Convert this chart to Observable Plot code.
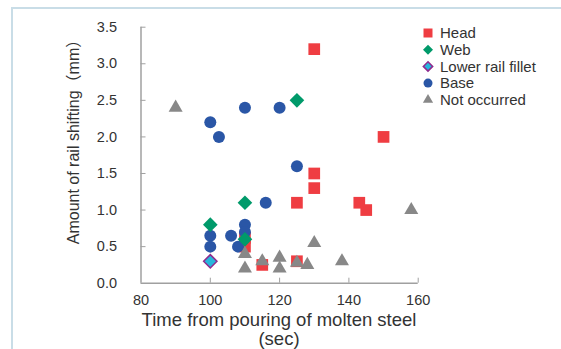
<!DOCTYPE html>
<html><head><meta charset="utf-8">
<script src="https://cdn.jsdelivr.net/npm/d3@7"></script>
<script src="https://cdn.jsdelivr.net/npm/@observablehq/plot@0.6"></script>
<style>
body{margin:0;background:#fff;}
#wrap{position:relative;width:561px;height:349px;overflow:hidden;font-family:"Liberation Sans",Arial,sans-serif;}
#frame{position:absolute;left:11px;top:7px;right:-10px;bottom:-10px;border-top:2px solid #c9dde7;border-left:2px solid #c9dde7;}
#chart{position:absolute;left:0;top:0;}
#legend{position:absolute;left:0;top:0;}
</style></head><body>
<div id="wrap"><div id="frame"></div><div id="chart"></div><svg id="legend" width="561" height="349"></svg></div>
<script>
const xTicks = [80, 100, 120, 140, 160];
const yTicks = [0, 0.5, 1, 1.5, 2, 2.5, 3, 3.5];
const seriesNames = ["Head", "Web", "Lower rail fillet", "Base", "Not occurred"];
const xTitle = "Time from pouring of molten steel";
const xUnit = "(sec)";
const yTitle = "Amount of rail shifting（mm）";

// [time (sec), shifting (mm)]
const head = [[130,3.2],[150,2.0],[130,1.5],[130,1.3],[125,1.1],[143,1.1],[145,1.0],[110,0.62],[110,0.5],[115,0.25],[125,0.3]];
const web = [[125,2.5],[110,1.1],[100,0.8],[110,0.6]];
const fillet = [[100,0.3]];
const base = [[100,2.2],[102.5,2.0],[110,2.4],[120,2.4],[125,1.6],[116,1.1],[110,0.8],[110,0.7],[100,0.65],[106,0.65],[100,0.5],[108,0.5]];
const notOccurred = [[90,2.4],[158,1.0],[130,0.55],[110,0.4],[110,0.2],[115,0.3],[120,0.35],[120,0.2],[125,0.28],[128,0.25],[138,0.3]];

const RED = "#ef3d42", GREEN = "#009a6a", CYAN = "#27b6dc", PURPLE = "#8e2b8e", BLUE = "#2a56a6", GRAY = "#888888";
const AXIS = "#a0a0a0", TEXT = "#333333";

const px = d => d[0], py = d => d[1];

const plot = Plot.plot({
  width: 561, height: 349,
  marginLeft: 140.5, marginRight: 143.3, marginTop: 26.7, marginBottom: 66.3,
  x: {domain: [80, 160]},
  y: {domain: [0, 3.5]},
  style: {fontFamily: '"Liberation Sans", Arial, sans-serif', fontSize: "14.5px", color: TEXT, background: "transparent"},
  marks: [
    Plot.axisY(yTicks.slice(1), {tickSize: 5, dx: 5, tickFormat: () => "", stroke: AXIS, label: null}),
    Plot.axisY(yTicks, {tickSize: 0, tickPadding: 24, tickFormat: d => d.toFixed(1), label: null}),
    Plot.axisX(xTicks.slice(1), {tickSize: 5, dy: -5, tickFormat: () => "", stroke: AXIS, label: null}),
    Plot.axisX(xTicks, {tickSize: 0, tickPadding: 12, tickFormat: d => String(d), label: null}),
    Plot.ruleX([80], {stroke: AXIS, strokeWidth: 1.5}),
    Plot.ruleY([0], {stroke: AXIS, strokeWidth: 1.5}),
    Plot.dot(head, {x: px, y: py, symbol: "square", r: 6.6, fill: RED}),
    Plot.dot(base, {x: px, y: py, symbol: "circle", r: 6, fill: BLUE}),
    Plot.dot(web, {x: px, y: py, symbol: "diamond2", r: 6.6, fill: GREEN}),
    Plot.dot(fillet, {x: px, y: py, symbol: "diamond2", r: 6, fill: CYAN, stroke: PURPLE, strokeWidth: 1.5}),
    Plot.dot(notOccurred, {x: px, y: py, symbol: "triangle", r: 5.2, fill: GRAY})
  ]
});
document.getElementById("chart").appendChild(plot);

const svg = d3.select(plot);
svg.append("text").attr("x", 279).attr("y", 326).attr("text-anchor", "middle")
  .attr("font-size", "18.5px").attr("fill", TEXT).text(xTitle);
svg.append("text").attr("x", 279).attr("y", 345).attr("text-anchor", "middle")
  .attr("font-size", "18.5px").attr("fill", TEXT).text(xUnit);
svg.append("text").attr("transform", "translate(79,138) rotate(-90)").attr("text-anchor", "middle")
  .attr("font-size", "16px").attr("fill", TEXT)
  .attr("font-family", '"Liberation Sans", Arial, "Noto Sans CJK JP", sans-serif').text(yTitle);

// legend
const legendItems = [
  {name: seriesNames[0], type: d3.symbolSquare, size: 81, fill: RED},
  {name: seriesNames[1], type: d3.symbolDiamond2, size: 64, fill: GREEN},
  {name: seriesNames[2], type: d3.symbolDiamond2, size: 56, fill: CYAN, stroke: PURPLE},
  {name: seriesNames[3], type: d3.symbolCircle, size: 64, fill: BLUE},
  {name: seriesNames[4], type: d3.symbolTriangle, size: 45, fill: GRAY}
];
const leg = d3.select("#legend");
legendItems.forEach((it, i) => {
  const g = leg.append("g").attr("transform", `translate(428,${33 + i * 16.7})`);
  g.append("path").attr("d", d3.symbol(it.type, it.size)()).attr("fill", it.fill)
    .attr("stroke", it.stroke || "none").attr("stroke-width", 1.5);
  g.append("text").attr("x", 12).attr("dy", "0.35em").attr("font-size", "15px").attr("fill", TEXT).text(it.name);
});
</script>
</body></html>
